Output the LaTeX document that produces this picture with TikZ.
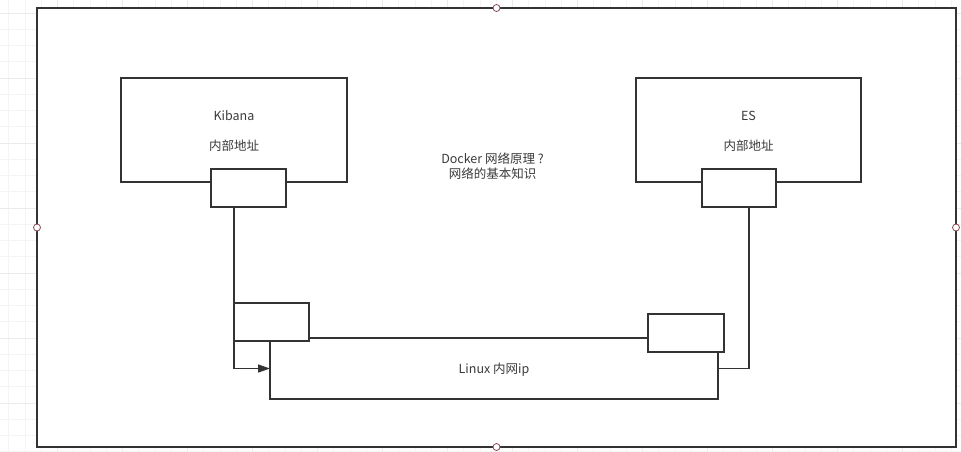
\documentclass[tikz,border=0pt]{standalone}
\usepackage{fontspec}
\setmainfont{Noto Sans CJK SC}
\usetikzlibrary{arrows.meta}
\definecolor{ink}{HTML}{333333}
\definecolor{txt}{HTML}{3A3A3A}
\definecolor{handle}{HTML}{8A4A58}
\definecolor{gridminor}{HTML}{F4F4F4}
\definecolor{gridmajor}{HTML}{EBEBEB}
\tikzset{
  boxn/.style={draw=ink, line width=1.6pt, fill=white, inner sep=0pt, outer sep=0pt, rectangle},
  lbl/.style={text=txt, font=\fontsize{12.5}{15}\selectfont, inner sep=0pt, align=center},
  conn/.style={draw=ink, line width=1.6pt},
  hdl/.style={circle, draw=handle, fill=white, line width=0.8pt, minimum size=7pt, inner sep=0pt}
}
\begin{document}
\begin{tikzpicture}[x=1pt,y=-1pt]
\useasboundingbox (0,0) rectangle (961,452);
\fill[white] (0,0) rectangle (961,452);
% background grid
\foreach \k in {0,...,60}{
  \pgfmathtruncatemacro{\m}{mod(\k,4)}
  \ifnum\m=0 \draw[gridmajor,line width=0.8pt] ({-7.5+16.25*\k},0) -- ++(0,452);
  \else \draw[gridminor,line width=0.8pt] ({-7.5+16.25*\k},0) -- ++(0,452); \fi
}
\foreach \k in {0,...,28}{
  \pgfmathtruncatemacro{\m}{mod(\k,4)}
  \ifnum\m=0 \draw[gridmajor,line width=0.8pt] (0,{13+16.25*\k}) -- ++(961,0);
  \else \draw[gridminor,line width=0.8pt] (0,{13+16.25*\k}) -- ++(961,0); \fi
}
% outer container
\node[boxn, line width=1.8pt, minimum width=919pt, minimum height=439pt] (outer) at (496.5,227.5) {};
% Kibana
\node[boxn, minimum width=226pt, minimum height=104pt] (kib) at (234,130) {};
\node[lbl] (kibt) at (234,115.5) {Kibana};
\node[lbl] (kiba) at (234,146) {内部地址};
\node[boxn, minimum width=75pt, minimum height=38pt] (kport) at (248.5,188) {};
% ES
\node[boxn, minimum width=225pt, minimum height=104pt] (es) at (748.5,130) {};
\node[lbl] (est) at (748.5,115.5) {ES};
\node[lbl] (esa) at (748.5,146) {内部地址};
\node[boxn, minimum width=74pt, minimum height=38pt] (eport) at (739,188) {};
% centre text
\node[lbl, font=\fontsize{12.5}{15.5}\selectfont] (doc) at (492.5,166) {Docker 网络原理 ?\\网络的基本知识};
% Linux
\node[boxn, minimum width=448pt, minimum height=61pt] (linux) at (494,368.5) {};
\node[lbl] (lt) at (494,369.5) {Linux 内网ip};
\node[boxn, minimum width=75pt, minimum height=38pt] (lsmall) at (271.5,322) {};
\node[boxn, minimum width=76pt, minimum height=38pt] (rsmall) at (686,333) {};
% connectors
\draw[conn, -{Triangle[length=12pt,width=8pt]}] (kport.south -| lsmall.west) -- (lsmall.west |- linux.west) -- (linux.west);
\draw[conn] (lsmall.east |- linux.north) -- (rsmall.west |- linux.north);
\draw[conn] ([xshift=10pt]eport.south) |- (linux.east);
% selection handles
\node[hdl] (h1) at (outer.north) {};
\node[hdl] (h2) at (outer.south) {};
\node[hdl] (h3) at (outer.west) {};
\node[hdl] (h4) at (outer.east) {};
\end{tikzpicture}
\end{document}
